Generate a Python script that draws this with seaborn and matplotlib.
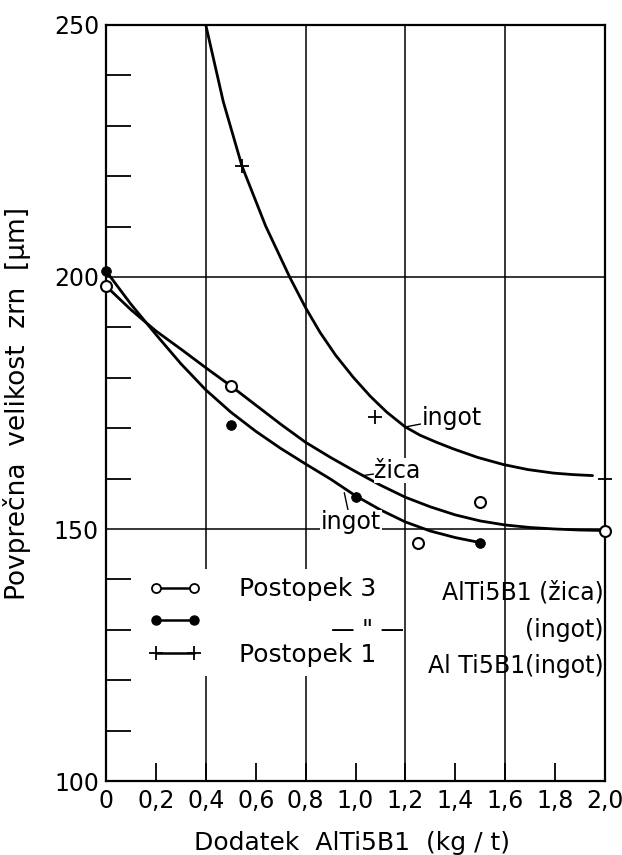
import matplotlib
matplotlib.use("Agg")
import matplotlib.pyplot as plt
from matplotlib.lines import Line2D
from matplotlib.ticker import FixedLocator, FuncFormatter
import seaborn as sns

# ── data ──────────────────────────────────────────────────────
# Postopek 1, AlTi5B1 ingot (crosses + fitted curve)
p1_x = [0.545, 1.08, 2.0]
p1_y = [222.0, 172.3, 160.0]
p1_curve_x = [0.40, 0.47, 0.545, 0.64, 0.737, 0.80, 0.858, 0.92, 0.991, 1.06,
              1.125, 1.198, 1.259, 1.325, 1.392, 1.49, 1.592, 1.69, 1.793, 1.87, 1.95]
p1_curve_y = [250.0, 234.8, 222.0, 210.1, 199.9, 193.9, 189.0, 184.5, 180.1, 176.3,
              173.2, 170.3, 168.6, 167.2, 165.9, 164.2, 162.8, 161.8, 161.1, 160.8, 160.6]

# Postopek 3, AlTi5B1 žica (open circles)
zica_x = [0.0, 0.5, 1.25, 1.5, 2.0]
zica_y = [198.2, 178.4, 147.3, 155.4, 149.7]
zica_curve_x = [0.0, 0.1, 0.2, 0.3, 0.4, 0.5, 0.6, 0.7, 0.8, 0.9, 1.0,
                1.1, 1.2, 1.3, 1.4, 1.5, 1.6, 1.7, 1.8, 1.9, 2.0]
zica_curve_y = [198.2, 193.5, 189.3, 185.7, 182.0, 178.4, 174.6, 170.8, 167.2, 164.2, 161.4,
                158.7, 156.3, 154.4, 152.8, 151.6, 150.8, 150.3, 150.0, 149.8, 149.7]

# Postopek 3, AlTi5B1 ingot (filled circles)
ing3_x = [0.0, 0.5, 1.0, 1.5]
ing3_y = [201.2, 170.6, 156.4, 147.3]
ing3_curve_x = [0.0, 0.1, 0.2, 0.3, 0.4, 0.5, 0.6, 0.7, 0.8, 0.9, 1.0,
                1.1, 1.2, 1.3, 1.4, 1.5]
ing3_curve_y = [201.2, 194.6, 188.6, 182.8, 177.6, 173.2, 169.4, 166.0, 162.9, 159.9, 156.6,
                153.8, 151.4, 149.6, 148.3, 147.3]

grid_x = [0.4, 0.8, 1.2, 1.6]
grid_y = [150, 200]
x_ticks = [0.0, 0.2, 0.4, 0.6, 0.8, 1.0, 1.2, 1.4, 1.6, 1.8, 2.0]
y_ticks = [100, 150, 200, 250]
y_minor = [110, 120, 130, 140, 160, 170, 180, 190, 210, 220, 230, 240]

# ── style ─────────────────────────────────────────────────────
sns.set_style("ticks")
plt.rcParams["font.family"] = ["DejaVu Sans"]
for k in ["text.color", "axes.labelcolor", "xtick.color", "ytick.color"]:
    plt.rcParams[k] = "black"
FS = 17

fig, ax = plt.subplots(figsize=(6.22, 8.55), dpi=100)
fig.subplots_adjust(left=0.1704, right=0.9727, bottom=0.0865, top=0.9708)

# grid lines
ax.vlines(grid_x, 100, 250, color="black", lw=1.1, zorder=1)
ax.hlines(grid_y, 0, 2.0, color="black", lw=1.1, zorder=1)

# curves
for cx, cy in [(p1_curve_x, p1_curve_y), (zica_curve_x, zica_curve_y),
               (ing3_curve_x, ing3_curve_y)]:
    sns.lineplot(x=cx, y=cy, color="black", lw=2.0, sort=False,
                 estimator=None, ax=ax, zorder=3)

# points
sns.scatterplot(x=zica_x, y=zica_y, marker="o", s=62, color="white",
                edgecolor="black", linewidth=1.5, ax=ax, zorder=4, clip_on=False)
sns.scatterplot(x=ing3_x, y=ing3_y, marker="o", s=50, color="black",
                edgecolor="black", linewidth=0.5, ax=ax, zorder=4, clip_on=False)
sns.scatterplot(x=p1_x, y=p1_y, marker="+", s=110, color="black",
                linewidth=1.3, ax=ax, zorder=4, clip_on=False)

# curve labels
lab_kw = dict(fontsize=FS, ha="left", va="center", zorder=5,
              bbox=dict(facecolor="white", edgecolor="none", pad=0.5),
              arrowprops=dict(arrowstyle="-", color="black", lw=1.0,
                              shrinkA=0, shrinkB=0))
ax.annotate("ingot", xy=(1.205, 170.3), xytext=(1.265, 172.0), **lab_kw)
ax.annotate("žica", xy=(1.03, 160.6), xytext=(1.075, 161.6), **lab_kw)
ax.annotate("ingot", xy=(0.955, 157.2), xytext=(0.86, 151.3), **lab_kw)

# axes
ax.set_xlim(0, 2.0)
ax.set_ylim(100, 250)
ax.set_xticks(x_ticks)
ax.xaxis.set_major_formatter(FuncFormatter(
    lambda v, p: "0" if v == 0 else f"{v:.1f}".replace(".", ",")))
ax.set_yticks(y_ticks)
ax.yaxis.set_minor_locator(FixedLocator(y_minor))
ax.tick_params(axis="x", direction="in", length=13, width=1.3,
               labelsize=FS, pad=6, top=False)
ax.tick_params(axis="y", which="major", direction="in", length=0,
               labelsize=FS, pad=5, right=False)
ax.tick_params(axis="y", which="minor", direction="in", length=18,
               width=1.3, right=False)
for sp in ax.spines.values():
    sp.set_visible(True)
    sp.set_linewidth(1.6)
    sp.set_color("black")

ax.set_xlabel("Dodatek  AlTi5B1  (kg / t)", fontsize=18)
ax.xaxis.set_label_coords(0.493, -0.066)
ax.set_ylabel("Povprečna  velikost  zrn  [µm]", fontsize=19)
ax.yaxis.set_label_coords(-0.15, 0.5)

# legend
handles = [
    Line2D([], [], color="black", lw=1.8, marker="o", mfc="white", mec="black",
           mew=1.3, ms=6.5),
    Line2D([], [], color="black", lw=1.8, marker="o", mfc="black", mec="black",
           ms=6.5),
    Line2D([], [], color="black", lw=1.8, marker="+", mec="black", mew=1.3, ms=10),
]
leg = ax.legend(handles, ["Postopek 3", " ", "Postopek 1"], numpoints=2,
                loc="upper left", bbox_to_anchor=(0.068, 0.281), fontsize=18,
                handlelength=2.1, handletextpad=1.5, labelspacing=0.35,
                borderpad=0.35, borderaxespad=0, frameon=True,
                facecolor="white", edgecolor="none", framealpha=1,
                fancybox=False)
leg.set_zorder(6)

txt_kw = dict(fontsize=FS, va="center", transform=ax.transAxes, zorder=7)
ax.text(0.997, 0.249, "AlTi5B1 (žica)", ha="right", **txt_kw)
ax.text(0.525, 0.200, "— \" —", ha="center", **txt_kw)
ax.text(0.997, 0.200, "(ingot)", ha="right", **txt_kw)
ax.text(0.997, 0.152, "Al Ti5B1(ingot)", ha="right", **txt_kw)

plt.savefig("out.png", dpi=100)
plt.close()
